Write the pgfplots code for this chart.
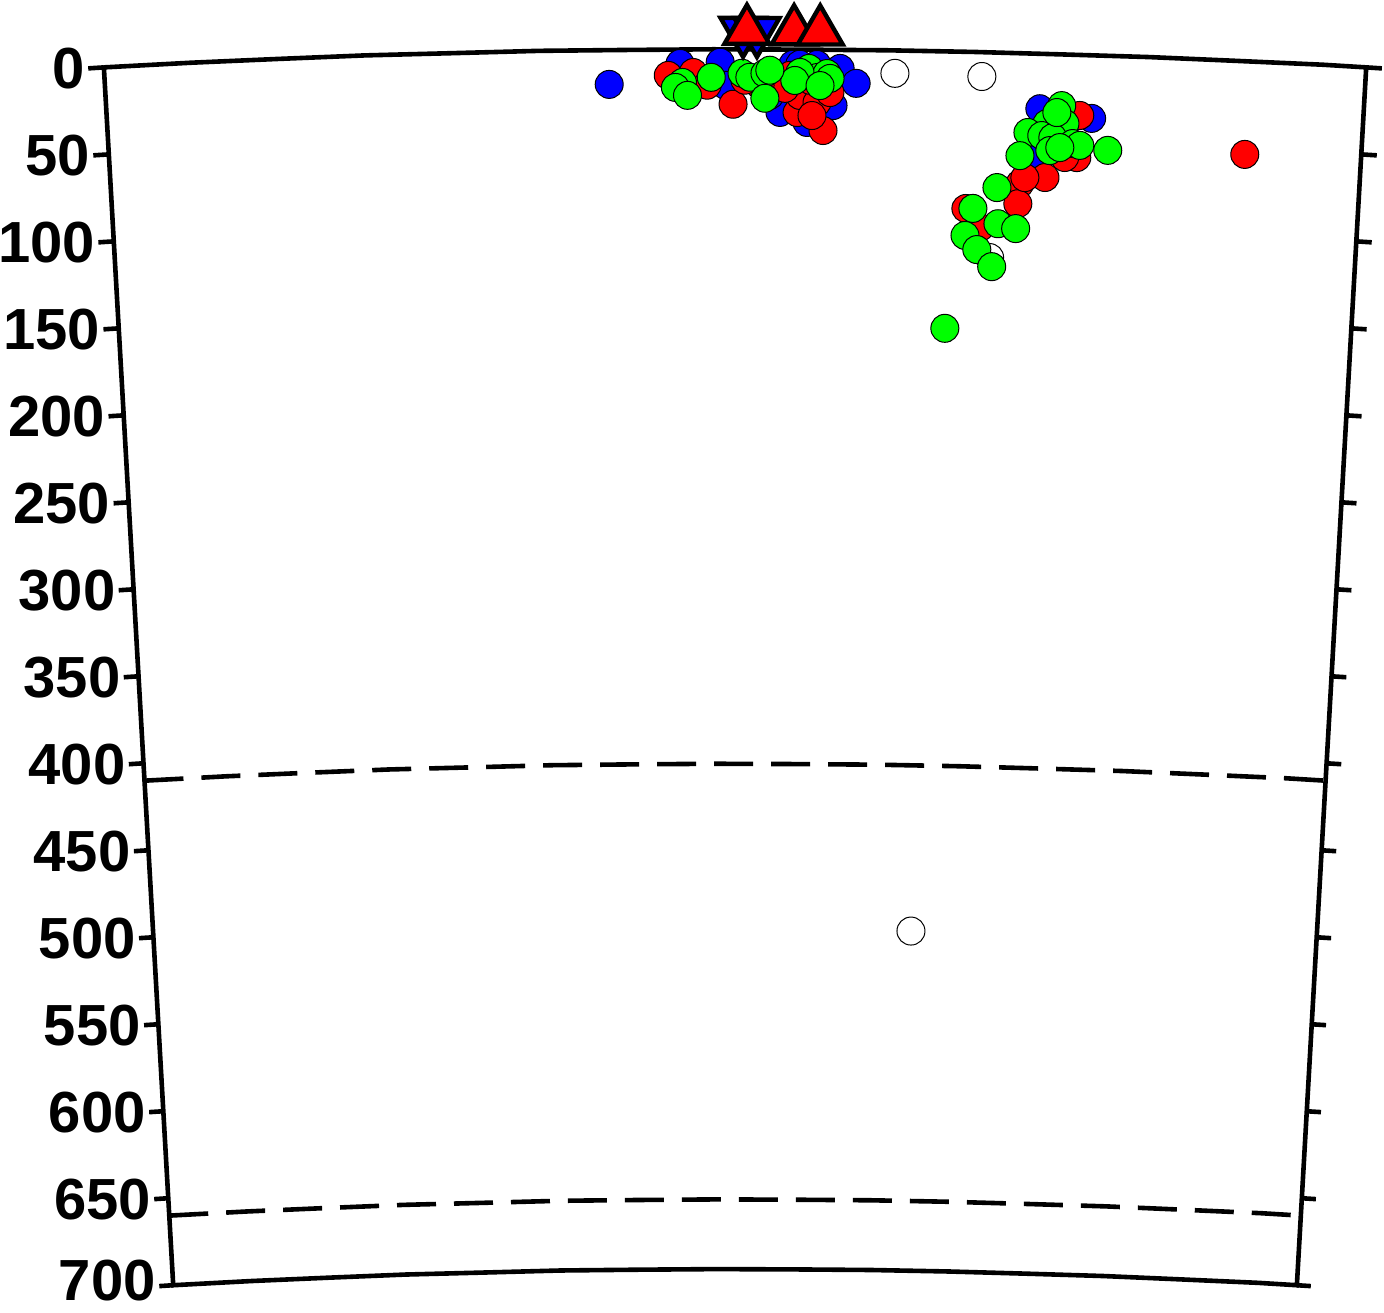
\documentclass[border=0pt]{standalone}
\usepackage{pgfplots}
\pgfplotsset{compat=1.18}
\usepackage{pgfplotstable}
\usepackage{fontspec}
\setmainfont{Liberation Sans}

% distance along the section at the surface (km) and depth (km)
\pgfplotsset{
  table/geo/.style={
    x expr={(6371-\thisrow{z})*sin((\thisrow{d}-362.5)*0.0089932)},
    y expr={(6371-\thisrow{z})*cos((\thisrow{d}-362.5)*0.0089932)-6371}
  }
}

\pgfplotstableread{
d z
454.5 13.1
504.5 13.9
472.2 505.3
511.4 117.7
}\whitedata

\pgfplotstableread{
d z
290.0 19.7
330.9 8.0
353.9 7.5
356.8 20.7
395.8 8.5
409.6 8.4
422.9 10.6
432.2 19.1
388.5 36.1
404.1 41.8
419.0 31.9
382.7 26.4
399.8 8.4
538.4 31.5
568.5 36.3
537.4 60.2
}\bluedata

\pgfplotstableread{
d z
324.1 14.8
338.4 13.2
346.4 20.6
361.3 31.6
394.1 14.8
398.3 36.1
399.9 26.3
409.8 30.2
413.4 46.3
405.7 17.6
391.3 22.3
417.2 24.5
376.9 20.6
368.2 17.8
407.0 37.7
657.7 53.5
542.4 71.0
528.0 74.8
560.6 59.0
561.6 34.8
527.1 86.3
496.9 89.9
530.8 71.3
505.3 100.6
553.6 59.2
550.3 42.6
}\reddata

\pgfplotstableread{
d z
332.2 18.9
328.1 21.7
335.0 26.3
348.7 16.1
366.5 13.8
371.1 16.1
379.8 13.8
379.8 28.1
405.0 10.8
409.7 15.9
415.4 13.6
417.2 16.4
399.9 13.1
397.0 17.7
411.4 20.5
382.6 12.0
551.0 29.4
553.1 39.7
542.7 40.0
531.8 45.4
540.0 46.9
546.4 47.9
558.0 51.0
562.1 52.0
578.4 54.4
527.6 58.7
544.8 55.4
550.6 53.5
548.3 33.5
514.7 77.4
501.0 89.8
515.8 98.1
526.3 100.7
496.7 105.4
503.8 113.3
512.8 122.8
486.0 159.0
}\greendata

\pgfplotstableread{
d z
367.1 -10.5
375.1 -10.5
}\bluetri

\pgfplotstableread{
d z
369.4 -10.5
396.4 -10.5
411.3 -10.5
}\redtri

\pgfplotstableread{
d z
0 0
50 0
100 0
150 0
200 0
250 0
300 0
350 0
400 0
450 0
500 0
550 0
600 0
650 0
700 0
725 0
725 700
700 700
650 700
600 700
550 700
500 700
450 700
400 700
350 700
300 700
250 700
200 700
150 700
100 700
50 700
0 700
0 0
}\framedata

\pgfplotstableread{
lab d z
0 -9 0
50 -9 50
100 -9 100
150 -9 150
200 -9 200
250 -9 250
300 -9 300
350 -9 350
400 -9 400
450 -9 450
500 -9 500
550 -9 550
600 -9 600
650 -9 650
700 -9 697
}\labdata

\begin{document}
\begin{tikzpicture}
\begin{axis}[
  x=0.8713pt, y=0.8713pt,
  xmin=-421.8, xmax=372.4, ymin=-724.8, ymax=28.1,
  hide axis, clip=false,
]
% discontinuities
\addplot[black, line width=2.3pt, dash pattern=on 19.5pt off 9pt] table[geo, row sep=\\]
  {d z\\ 0 410\\ 50 410\\ 100 410\\ 150 410\\ 200 410\\ 250 410\\ 300 410\\ 350 410\\ 400 410\\ 450 410\\ 500 410\\ 550 410\\ 600 410\\ 650 410\\ 700 410\\ 725 410\\};
\addplot[black, line width=2.3pt, dash pattern=on 19.5pt off 9pt] table[geo, row sep=\\]
  {d z\\ 0 660\\ 50 660\\ 100 660\\ 150 660\\ 200 660\\ 250 660\\ 300 660\\ 350 660\\ 400 660\\ 450 660\\ 500 660\\ 550 660\\ 600 660\\ 650 660\\ 700 660\\ 725 660\\};

% events
\addplot[only marks, mark=*, mark size=7pt, mark options={draw=black, fill=white, line width=0.5pt}] table[geo] {\whitedata};
\addplot[only marks, mark=*, mark size=7pt, mark options={draw=black, fill=blue, line width=0.5pt}] table[geo] {\bluedata};
\addplot[only marks, mark=*, mark size=7pt, mark options={draw=black, fill=red, line width=0.5pt}] table[geo] {\reddata};
\addplot[only marks, mark=*, mark size=7pt, mark options={draw=black, fill=green, line width=0.5pt}] table[geo] {\greendata};

% frame
\addplot[black, line width=2.3pt, line join=miter] table[geo] {\framedata};
\pgfplotsinvokeforeach{0,50,...,700}{
  \addplot[black, line width=2.3pt] table[geo, row sep=\\] {d z\\ 0 #1\\ -9 #1\\};
  \addplot[black, line width=2.3pt] table[geo, row sep=\\] {d z\\ 725 #1\\ 734 #1\\};
}
\addplot[draw=none, mark=none, nodes near coords, point meta=explicit symbolic,
  every node near coord/.append style={anchor=east, inner sep=1.5pt, text=black,
  font=\fontsize{29}{32}\selectfont\bfseries}] table[geo, meta=lab] {\labdata};

% stations
\addplot[only marks, mark=triangle*, mark size=13pt, mark options={rotate=180, draw=black, fill=blue, line width=2.2pt}] table[geo] {\bluetri};
\addplot[only marks, mark=triangle*, mark size=13pt, mark options={draw=black, fill=red, line width=2.2pt}] table[geo] {\redtri};

\coordinate (bbll) at (axis cs:-421.8,-724.8);
\coordinate (bbur) at (axis cs:372.4,28.1);
\end{axis}
\pgfresetboundingbox
\useasboundingbox (bbll) rectangle (bbur);
\end{tikzpicture}
\end{document}
